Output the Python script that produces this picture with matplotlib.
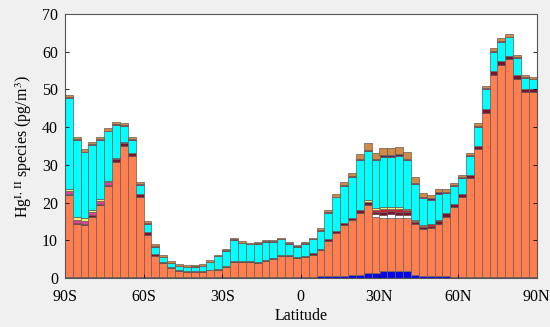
import matplotlib
matplotlib.use("Agg")
import matplotlib.pyplot as plt
import numpy as np

lat_centers = np.arange(-88.5, 90, 3.0)

blue = [0.3]*32 + [0.4, 0.4, 0.5, 0.6, 0.7, 0.8, 1.2, 1.4, 1.8, 1.8, 1.9, 1.8, 0.9, 0.5, 0.5, 0.4, 0.4, 0.3, 0.3, 0.3, 0.3, 0.3, 0.3, 0.3, 0.3, 0.3, 0.3, 0.3]

orange = [21.7, 14.0, 13.7, 16.0, 19.1, 24.1, 30.5, 34.7, 32.1, 21.1,
          11.1, 5.5, 3.7, 2.3, 1.6, 1.4, 1.4, 1.4, 1.7, 1.8,
          2.6, 3.8, 3.8, 3.8, 3.7, 4.2, 4.7, 5.4, 5.4, 4.9,
          5.3, 5.9, 7.0, 9.5, 11.5, 13.5, 14.7, 16.5, 18.2, 14.9,
          14.0, 14.1, 14.0, 14.2, 13.4, 12.4, 12.7, 13.9, 15.9, 18.6,
          21.3, 26.1, 33.8, 43.4, 53.5, 56.2, 57.7, 52.6, 49.1, 49.1]

white = [0.0]*39 + [0.6, 1.0, 1.0, 0.9, 0.7] + [0.0]*16

maroon = [0.3, 0.3, 0.3, 0.3, 0.3, 0.3, 0.8, 0.8, 0.8, 0.9,
          0.9, 0.6, 0.3, 0.3, 0.2, 0.2, 0.2, 0.2, 0.2, 0.2,
          0.2, 0.3, 0.3, 0.3, 0.3, 0.3, 0.3, 0.3, 0.3, 0.3,
          0.3, 0.3, 0.4, 0.5, 0.5, 0.6, 0.6, 0.7, 0.7, 0.6,
          0.8, 0.8, 0.8, 0.8, 0.6, 0.6, 0.7, 0.8, 0.8, 0.8,
          0.8, 0.9, 1.0, 1.0, 1.0, 1.0, 0.9, 0.9, 0.6, 0.6]

magenta = [0.8, 0.9, 0.9, 0.9, 0.8, 0.7, 0.3, 0.2] + [0.0]*52

crimson = [0.0]*39 + [0.6, 0.7, 0.7, 0.7, 0.5, 0.2, 0.25, 0.3, 0.2] + [0.0]*12

yellow = [0.6, 0.6, 0.6, 0.6, 0.5, 0.3] + [0.0]*32 + [0.5, 0.4, 0.5, 0.5, 0.5, 0.4, 0.2, 0.3, 0.2, 0.2] + [0.0]*12

cyan = [24.0, 20.6, 17.5, 17.2, 15.7, 13.2, 8.8, 4.4, 3.5, 2.4,
        2.0, 1.9, 1.2, 1.0, 1.0, 1.0, 1.05, 1.3, 2.0, 3.4,
        4.1, 5.7, 4.8, 4.5, 4.8, 4.8, 4.3, 4.2, 3.1, 2.75,
        3.2, 3.7, 4.7, 6.9, 8.9, 9.8, 10.8, 13.2, 13.0, 12.8,
        13.3, 13.25, 13.55, 12.8, 9.5, 7.1, 6.4, 6.9, 5.5, 4.8,
        4.1, 5.0, 5.0, 5.4, 5.2, 5.2, 4.9, 4.5, 3.1, 2.7]

purple = [0.2]*12 + [0.1]*20 + [0.15, 0.2, 0.2, 0.2, 0.2, 0.3, 0.3, 0.3, 0.45, 0.45, 0.45, 0.4, 0.3, 0.3, 0.3, 0.3, 0.2, 0.2, 0.2, 0.2, 0.2, 0.2, 0.2, 0.2, 0.2, 0.2, 0.2, 0.2]

cap = [0.6]*12 + [0.4]*20 + [0.5, 0.6, 0.7, 0.8, 0.9, 1.4, 1.8, 1.5, 1.9, 1.8, 1.9, 1.7, 1.8, 1.0, 0.9, 0.8, 0.7, 0.6, 0.6, 0.7, 0.7, 0.7, 0.7, 0.7, 0.7, 0.6, 0.5, 0.5]

layers = [
    ("blue", blue, "#0a0ae6"),
    ("orange", orange, "#ff7f50"),
    ("white", white, "#ffffff"),
    ("maroon", maroon, "#7a1430"),
    ("magenta", magenta, "#e0409a"),
    ("crimson", crimson, "#c81e32"),
    ("yellow", yellow, "#f2ee7a"),
    ("cyan", cyan, "#00ffff"),
    ("purple", purple, "#4a2c66"),
    ("cap", cap, "#d08a48"),
]

xtick_pos = [-90, -60, -30, 0, 30, 60, 90]
xtick_labels = ["90S", "60S", "30S", "0", "30N", "60N", "90N"]

plt.rcParams["font.family"] = ["Liberation Serif", "DejaVu Serif"]
plt.rcParams["mathtext.fontset"] = "stix"

fig = plt.figure(figsize=(5.5, 3.27), dpi=100, facecolor="#f0f0f0")
ax = fig.add_axes([0.118, 0.150, 0.858, 0.807])
ax.set_facecolor("white")

bottom = np.zeros(len(lat_centers))
for name, vals, col in layers:
    v = np.array(vals, dtype=float)
    ax.bar(lat_centers, v, width=3.0, bottom=bottom, color=col,
           edgecolor="#6a5a55", linewidth=0.5, align="center")
    bottom += v

ax.set_xlim(-90, 90)
ax.set_ylim(0, 70)
ax.set_xticks(xtick_pos)
ax.set_xticklabels(xtick_labels)
ax.set_yticks(np.arange(0, 71, 10))
ax.tick_params(direction="in", length=3, labelsize=11.5, top=False, right=True, width=0.6)
ax.tick_params(axis="x", pad=8)
ax.tick_params(axis="y", pad=5)
for s in ax.spines.values():
    s.set_linewidth(0.8)
    s.set_color("#555555")
ax.set_xlabel("Latitude", fontsize=11.5, labelpad=2)
ax.set_ylabel(r"Hg$^{\mathrm{I,\,II}}$ species (pg/m$^{3}$)", fontsize=11.5, labelpad=6)

fig.savefig("out.png", dpi=100, facecolor=fig.get_facecolor())
